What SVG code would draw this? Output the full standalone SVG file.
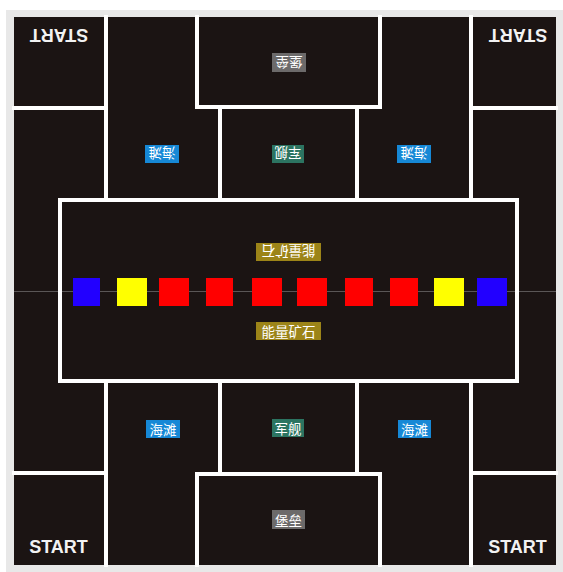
<svg xmlns="http://www.w3.org/2000/svg" width="563" height="572" viewBox="0 0 563 572">
<style>
.wall{stroke:#ffffff;stroke-width:4;fill:none;stroke-linecap:square}
.lbl{font-family:"Noto Sans CJK SC","Noto Sans",sans-serif;font-size:13.5px;fill:#ffffff;text-anchor:middle;dominant-baseline:central}
.start{font-family:"Liberation Sans","Noto Sans",sans-serif;font-weight:bold;font-size:18px;fill:#f2f2f2;text-anchor:middle;dominant-baseline:central}
.gold{fill:#9c8418}
.blue{fill:#1688d6}
.green{fill:#2c7461}
.gray{fill:#6c6a6a}
</style>
<rect x="0" y="0" width="563" height="572" fill="#ffffff"/>
<rect x="6" y="10" width="557" height="562" fill="#e8e8e8"/>
<rect x="14" y="17" width="542" height="548" fill="#1b1413"/>
<line x1="14" y1="291.5" x2="556" y2="291.5" stroke="#5a5656" stroke-width="1"/>
<g id="connectors">
<path class="wall" d="M106,17 V200 M106,381 V565"/>
<path class="wall" d="M471,17 V200 M471,381 V565"/>
<path class="wall" d="M14,108 H106 M471,108 H556"/>
<path class="wall" d="M14,473 H106 M471,473 H556"/>
<path class="wall" d="M197,17 V107 H380 V17"/>
<path class="wall" d="M197,565 V474 H380 V565"/>
<path class="wall" d="M220,107 V200 M357,107 V200"/>
<path class="wall" d="M220,381 V474 M357,381 V474"/>
</g>
<g id="center">
<rect x="60" y="200" width="457" height="181" fill="none" stroke="#ffffff" stroke-width="4"/>
</g>
<g id="squares">
<rect x="73" y="278" width="27" height="28" fill="#2200ff"/>
<rect x="117" y="278" width="30" height="28" fill="#ffff00"/>
<rect x="159" y="278" width="30" height="28" fill="#ff0000"/>
<rect x="206" y="278" width="27" height="28" fill="#ff0000"/>
<rect x="252" y="278" width="30" height="28" fill="#ff0000"/>
<rect x="297" y="278" width="30" height="28" fill="#ff0000"/>
<rect x="345" y="278" width="28" height="28" fill="#ff0000"/>
<rect x="390" y="278" width="28" height="28" fill="#ff0000"/>
<rect x="434" y="278" width="30" height="28" fill="#ffff00"/>
<rect x="477" y="278" width="30" height="28" fill="#2200ff"/>
</g>
<g id="start-tl"><text class="start" transform="rotate(180 59 35)" x="59" y="35">START</text></g>
<g id="start-tr"><text class="start" transform="rotate(180 518 35)" x="518" y="35">START</text></g>
<g id="start-bl"><text class="start" x="58.5" y="547">START</text></g>
<g id="start-br"><text class="start" x="517.5" y="547">START</text></g>
<g id="fort-top" transform="rotate(180 289 62.5)"><rect class="gray" x="272" y="53" width="34" height="19"/><text class="lbl" x="289" y="62.5">堡垒</text></g>
<g id="beach-tl" transform="rotate(180 162 154)"><rect class="blue" x="145" y="145" width="34" height="18"/><text class="lbl" x="162" y="154">海滩</text></g>
<g id="ship-top" transform="rotate(180 288 154)"><rect class="green" x="272" y="145" width="32" height="18"/><text class="lbl" x="288" y="154">军舰</text></g>
<g id="beach-tr" transform="rotate(180 414 154)"><rect class="blue" x="397" y="145" width="34" height="18"/><text class="lbl" x="414" y="154">海滩</text></g>
<g id="ore-top" transform="rotate(180 288.5 252)"><rect class="gold" x="256" y="243" width="65" height="18"/><text class="lbl" x="288.5" y="252">能量矿石</text></g>
<g id="ore-bottom"><rect class="gold" x="256" y="322" width="65" height="18"/><text class="lbl" x="288.5" y="331">能量矿石</text></g>
<g id="beach-bl"><rect class="blue" x="146" y="420" width="34" height="18"/><text class="lbl" x="163" y="429">海滩</text></g>
<g id="ship-bottom"><rect class="green" x="272" y="419" width="32" height="18"/><text class="lbl" x="288" y="428">军舰</text></g>
<g id="beach-br"><rect class="blue" x="398" y="420" width="33" height="18"/><text class="lbl" x="414.5" y="429">海滩</text></g>
<g id="fort-bottom"><rect class="gray" x="272" y="510" width="33" height="19"/><text class="lbl" x="288.5" y="519.5">堡垒</text></g>
</svg>
